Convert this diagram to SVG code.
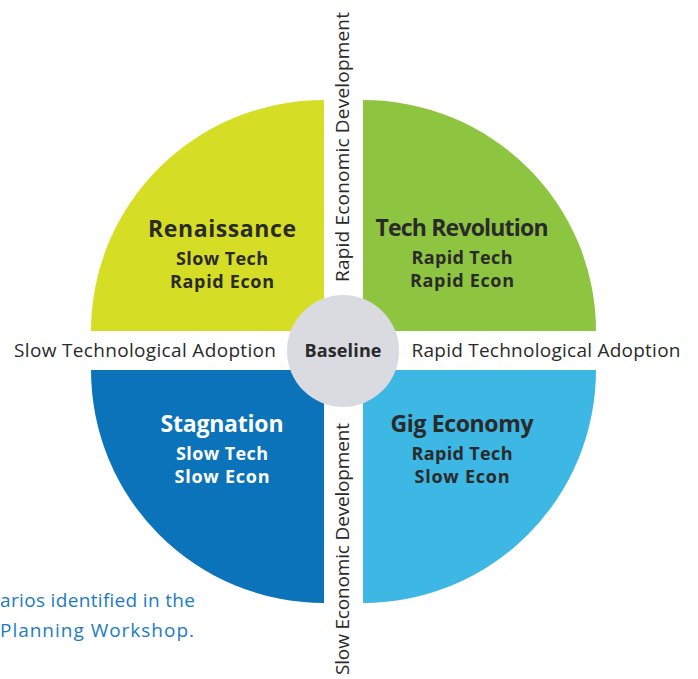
<svg xmlns="http://www.w3.org/2000/svg" width="698" height="679" viewBox="0 0 698 679">
<style>
.t{font-family:"Open Sans",Lato,sans-serif;fill:#2a2a2a;text-anchor:middle}
.h{font-size:23px;font-weight:700}
.s{font-size:18px;font-weight:700}
.ax{font-size:19px;font-weight:400}
.note{font-family:"Open Sans",Lato,sans-serif;font-size:19px;fill:#1c7cc2;text-anchor:end}
</style>
<rect width="698" height="679" fill="#ffffff"/>
<g id="renaissance">
<path d="M324,331 L91,331 A233,231 0 0 1 324,100 Z" fill="#d5de24"/>
<text class="t h" x="222" y="237" textLength="148">Renaissance</text>
<text class="t s" x="222" y="265" textLength="92">Slow Tech</text>
<text class="t s" x="222" y="288" textLength="104">Rapid Econ</text>
</g>
<g id="tech-revolution">
<path d="M363,331 L363,100 A233,231 0 0 1 596,331 Z" fill="#8dc540"/>
<text class="t h" x="462" y="236" textLength="173">Tech Revolution</text>
<text class="t s" x="462" y="264" textLength="101">Rapid Tech</text>
<text class="t s" x="462" y="287" textLength="104">Rapid Econ</text>
</g>
<g id="stagnation">
<path d="M324,370 L324,603 A233,233 0 0 1 91,370 Z" fill="#0a73ba"/>
<text class="t h" x="222" y="432" textLength="123" style="fill:#ffffff">Stagnation</text>
<text class="t s" x="222" y="460" textLength="92" style="fill:#ffffff">Slow Tech</text>
<text class="t s" x="222" y="483" textLength="95" style="fill:#ffffff">Slow Econ</text>
</g>
<g id="gig-economy">
<path d="M363,370 L596,370 A233,233 0 0 1 363,603 Z" fill="#3db7e4"/>
<text class="t h" x="462" y="432" textLength="143">Gig Economy</text>
<text class="t s" x="462" y="460" textLength="101">Rapid Tech</text>
<text class="t s" x="462" y="483" textLength="95">Slow Econ</text>
</g>
<g id="baseline">
<circle cx="343" cy="351" r="56" fill="#d9dbe0"/>
<text class="t s" x="343" y="357" textLength="77">Baseline</text>
</g>
<g id="axes">
<text class="t ax" x="145" y="357" textLength="262">Slow Technological Adoption</text>
<text class="t ax" x="546" y="357" textLength="269">Rapid Technological Adoption</text>
<text class="t ax" transform="translate(349,147) rotate(-90)" textLength="270">Rapid Economic Development</text>
<text class="t ax" transform="translate(349,423) rotate(-90)" style="text-anchor:end" textLength="252">Slow Economic Development</text>
</g>
<g id="note">
<text class="note" x="195" y="607" textLength="195">arios identified in the</text>
<text class="note" x="194" y="637" textLength="194">Planning Workshop.</text>
</g>
</svg>
